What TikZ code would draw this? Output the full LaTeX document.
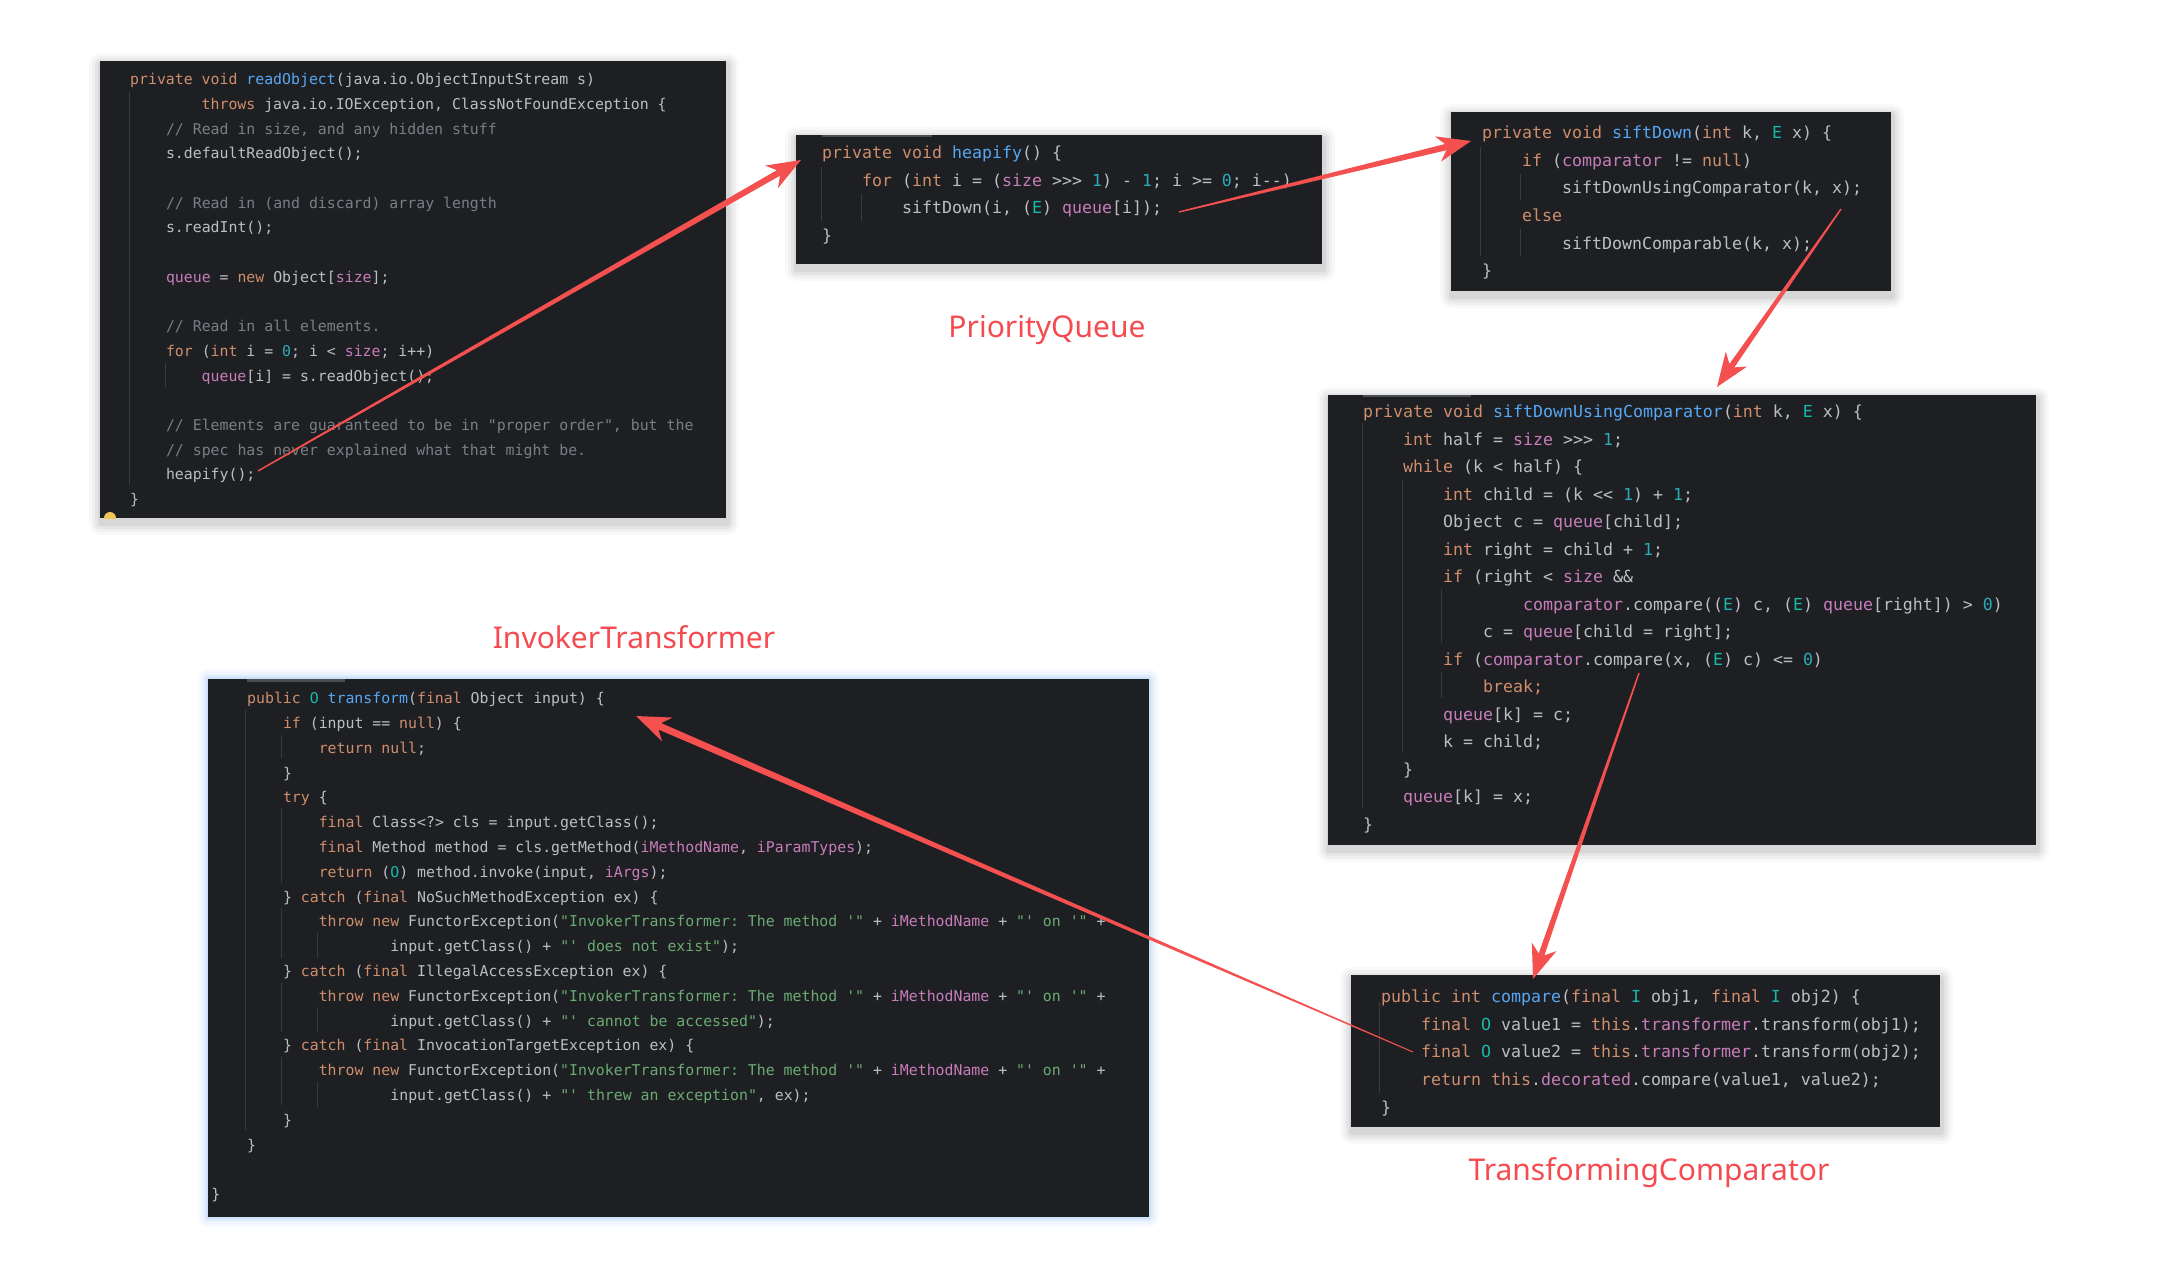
\documentclass[tikz,border=0pt]{standalone}
\usepackage{fontspec}
\setmonofont{DejaVu Sans Mono}
\newfontfamily\labelfont{Noto Sans}
\usetikzlibrary{calc}
\definecolor{bg}{HTML}{1E1F22}
\definecolor{tx}{HTML}{BCBEC4}
\definecolor{kwc}{HTML}{CF8E6D}
\definecolor{fnc}{HTML}{56A8F5}
\definecolor{fdc}{HTML}{C77DBB}
\definecolor{nmc}{HTML}{2AACB8}
\definecolor{cmc}{HTML}{7A7E85}
\definecolor{stc}{HTML}{6AAB73}
\definecolor{tpc}{HTML}{16BAAC}
\definecolor{arrowred}{RGB}{245,80,80}
\definecolor{lblred}{RGB}{245,75,80}
\definecolor{guide}{HTML}{393B40}
\definecolor{topbar}{HTML}{4A4D53}
\definecolor{glow}{RGB}{110,165,240}
\definecolor{dotyellow}{HTML}{F2C55C}
\newcommand\ckw[1]{\textcolor{kwc}{#1}}
\newcommand\cfn[1]{\textcolor{fnc}{#1}}
\newcommand\cfd[1]{\textcolor{fdc}{#1}}
\newcommand\cnm[1]{\textcolor{nmc}{#1}}
\newcommand\ccm[1]{\textcolor{cmc}{#1}}
\newcommand\cst[1]{\textcolor{stc}{#1}}
\newcommand\ctp[1]{\textcolor{tpc}{#1}}
\tikzset{
  code/.style={font=\ttfamily\fontsize{16.6pt}{16.6pt}\selectfont, text=tx, anchor=mid west, inner sep=0pt, yshift=-3.5pt},
  codes/.style={code, font=\ttfamily\fontsize{14.85pt}{14.85pt}\selectfont},
  codebox/.style={fill=bg, draw=none, anchor=north west, inner sep=0pt, outer sep=0pt},
  lbl/.style={font=\labelfont\fontsize{30pt}{30pt}\selectfont, text=lblred, anchor=base, inner sep=0pt},
  guideline/.style={draw=guide, line width=1pt},
}
\newcommand\dropshadow[4]{%
  \foreach \d/\o in {12/0.025,9/0.035,6/0.045,3/0.06}{%
    \fill[black, opacity=\o, rounded corners=\d pt] (#1-\d+1, #2-\d+4) rectangle (#3+\d+1, #4+\d+5);}%
}
\newcommand\glowshadow[4]{%
  \foreach \d/\o in {10/0.05,7/0.07,4/0.10,2/0.14}{%
    \fill[glow, opacity=\o, rounded corners=\d pt] (#1-\d, #2-\d) rectangle (#3+\d, #4+\d);}%
}
\newcommand\taperarrow[4]{%
  \coordinate (#2-n) at ($(#2)!26pt!(#1)$);
  \coordinate (#2-c) at ($(#2)!34pt!(#1)$);
  \fill[arrowred] ($(#1)!#3!90:(#2)$) -- ($(#2-n)!#4!90:(#2)$) -- ($(#2-c)!13pt!90:(#2)$) -- (#2)
    -- ($(#2-c)!13pt!-90:(#2)$) -- ($(#2-n)!#4!-90:(#2)$) -- ($(#1)!#3!-90:(#2)$) -- cycle;
}
\begin{document}
\begin{tikzpicture}[x=1pt, y=-1pt]
\fill[white] (0,0) rectangle (2176,1279);
\useasboundingbox (0,0) rectangle (2176,1279);

% ---------- shadows ----------
\dropshadow{100}{61}{726}{518}
\dropshadow{796}{135}{1322}{264}
\dropshadow{1451}{112}{1891}{291}
\dropshadow{1328}{395}{2036}{845}
\dropshadow{1351}{975}{1940}{1127}
\glowshadow{208}{679}{1149}{1217}

% ---------- boxes ----------
\node[codebox, minimum width=626pt, minimum height=457pt] (box1) at (100,61) {};
\node[codebox, minimum width=526pt, minimum height=129pt] (box2) at (796,135) {};
\node[codebox, minimum width=440pt, minimum height=179pt] (box3) at (1451,112) {};
\node[codebox, minimum width=708pt, minimum height=450pt] (box4) at (1328,395) {};
\node[codebox, minimum width=589pt, minimum height=152pt] (box5) at (1351,975) {};
\node[codebox, minimum width=941pt, minimum height=538pt] (box6) at (208,679) {};

% top bars
\fill[topbar] (822,135) rectangle (932,137);
\fill[topbar] (1363,395) rectangle (1471,397);
\fill[topbar] (247,679) rectangle (345,682);

% yellow dot
\begin{scope}
\clip (100,61) rectangle (726,518);
\fill[dotyellow] (110,518) circle[radius=6pt];
\end{scope}

% ---------- indent guides ----------
\draw[guideline] (129,92) -- (129,485);
\draw[guideline] (165,363) -- (165,387);
\draw[guideline] (821,167) -- (821,221);
\draw[guideline] (861,194) -- (861,221);
\draw[guideline] (1480,147) -- (1480,256);
\draw[guideline] (1520,174) -- (1520,200);
\draw[guideline] (1520,229) -- (1520,256);
\draw[guideline] (1362,423) -- (1362,808);
\draw[guideline] (1402,479) -- (1402,753);
\draw[guideline] (1441,589) -- (1441,643);
\draw[guideline] (1441,672) -- (1441,698);
\draw[guideline] (1379,1002) -- (1379,1093);
\draw[guideline] (245,710) -- (245,1130);
\draw[guideline] (281,735) -- (281,758);
\draw[guideline] (281,808) -- (281,883);
\draw[guideline] (281,908) -- (281,958);
\draw[guideline] (281,983) -- (281,1032);
\draw[guideline] (281,1057) -- (281,1105);
\draw[guideline] (317,933) -- (317,958);
\draw[guideline] (317,1007) -- (317,1032);
\draw[guideline] (317,1082) -- (317,1107);

% ---------- box1: readObject ----------
\node[codes] (t1a) at (130,79) {\ckw{private void} \cfn{readObject}(java.io.ObjectInputStream s)};
\node[codes] (t1b) at (201.5,103.7) {\ckw{throws} java.io.IOException, ClassNotFoundException \{};
\node[codes] (t1c) at (165.8,128.4) {\ccm{// Read in size, and any hidden stuff}};
\node[codes] (t1d) at (165.8,153.1) {s.defaultReadObject();};
\node[codes] (t1e) at (165.8,202.5) {\ccm{// Read in (and discard) array length}};
\node[codes] (t1f) at (165.8,227.2) {s.readInt();};
\node[codes] (t1g) at (165.8,276.6) {\cfd{queue} = \ckw{new} Object[\cfd{size}];};
\node[codes] (t1h) at (165.8,326) {\ccm{// Read in all elements.}};
\node[codes] (t1i) at (165.8,350.7) {\ckw{for} (\ckw{int} i = \cnm{0}; i < \cfd{size}; i++)};
\node[codes] (t1j) at (201.5,375.4) {\cfd{queue}[i] = s.readObject();};
\node[codes] (t1k) at (165.8,424.8) {\ccm{// Elements are guaranteed to be in "proper order", but the}};
\node[codes] (t1l) at (165.8,449.5) {\ccm{// spec has never explained what that might be.}};
\node[codes] (t1m) at (165.8,474.2) {heapify();};
\node[codes] (t1n) at (130,498.9) {\}};

% ---------- box2: heapify ----------
\node[code] (t2a) at (822,153) {\ckw{private void} \cfn{heapify}() \{};
\node[code] (t2b) at (862,180.5) {\ckw{for} (\ckw{int} i = (\cfd{size} >>> \cnm{1}) - \cnm{1}; i >= \cnm{0}; i--)};
\node[code] (t2c) at (902,208) {siftDown(i, (\ctp{E}) \cfd{queue}[i]);};
\node[code] (t2d) at (822,235.5) {\}};

% ---------- box3: siftDown ----------
\node[code] (t3a) at (1482,133) {\ckw{private void} \cfn{siftDown}(\ckw{int} k, \ctp{E} x) \{};
\node[code] (t3b) at (1522,160.6) {\ckw{if} (\cfd{comparator} != \ckw{null})};
\node[code] (t3c) at (1562,188.2) {siftDownUsingComparator(k, x);};
\node[code] (t3d) at (1522,215.8) {\ckw{else}};
\node[code] (t3e) at (1562,243.4) {siftDownComparable(k, x);};
\node[code] (t3f) at (1482,271) {\}};

% ---------- box4: siftDownUsingComparator ----------
\node[code] (t4a) at (1363,412) {\ckw{private void} \cfn{siftDownUsingComparator}(\ckw{int} k, \ctp{E} x) \{};
\node[code] (t4b) at (1403,439.5) {\ckw{int} half = \cfd{size} >>> \cnm{1};};
\node[code] (t4c) at (1403,467) {\ckw{while} (k < half) \{};
\node[code] (t4d) at (1443,494.5) {\ckw{int} child = (k << \cnm{1}) + \cnm{1};};
\node[code] (t4e) at (1443,522) {Object c = \cfd{queue}[child];};
\node[code] (t4f) at (1443,549.5) {\ckw{int} right = child + \cnm{1};};
\node[code] (t4g) at (1443,577) {\ckw{if} (right < \cfd{size} \&\&};
\node[code] (t4h) at (1523,604.5) {\cfd{comparator}.compare((\ctp{E}) c, (\ctp{E}) \cfd{queue}[right]) > \cnm{0})};
\node[code] (t4i) at (1483,632) {c = \cfd{queue}[child = right];};
\node[code] (t4j) at (1443,659.5) {\ckw{if} (\cfd{comparator}.compare(x, (\ctp{E}) c) <= \cnm{0})};
\node[code] (t4k) at (1483,687) {\ckw{break;}};
\node[code] (t4l) at (1443,714.5) {\cfd{queue}[k] = c;};
\node[code] (t4m) at (1443,742) {k = child;};
\node[code] (t4n) at (1403,769.5) {\}};
\node[code] (t4o) at (1403,797) {\cfd{queue}[k] = x;};
\node[code] (t4p) at (1363,824.5) {\}};

% ---------- box5: compare ----------
\node[code] (t5a) at (1381,997) {\ckw{public int} \cfn{compare}(\ckw{final} \ctp{I} obj1, \ckw{final} \ctp{I} obj2) \{};
\node[code] (t5b) at (1421,1024.6) {\ckw{final} \ctp{O} value1 = \ckw{this}.\cfd{transformer}.transform(obj1);};
\node[code] (t5c) at (1421,1052.2) {\ckw{final} \ctp{O} value2 = \ckw{this}.\cfd{transformer}.transform(obj2);};
\node[code] (t5d) at (1421,1079.8) {\ckw{return this}.\cfd{decorated}.compare(value1, value2);};
\node[code] (t5e) at (1381,1107.4) {\}};

% ---------- box6: transform ----------
\node[codes] (t6a) at (247,698) {\ckw{public} \ctp{O} \cfn{transform}(\ckw{final} Object input) \{};
\node[codes] (t6b) at (282.8,722.8) {\ckw{if} (input == \ckw{null}) \{};
\node[codes] (t6c) at (318.6,747.6) {\ckw{return null};};
\node[codes] (t6d) at (282.8,772.4) {\}};
\node[codes] (t6e) at (282.8,797.2) {\ckw{try} \{};
\node[codes] (t6f) at (318.6,822) {\ckw{final} Class<?> cls = input.getClass();};
\node[codes] (t6g) at (318.6,846.8) {\ckw{final} Method method = cls.getMethod(\cfd{iMethodName}, \cfd{iParamTypes});};
\node[codes] (t6h) at (318.6,871.6) {\ckw{return} (\ctp{O}) method.invoke(input, \cfd{iArgs});};
\node[codes] (t6i) at (282.8,896.4) {\} \ckw{catch} (\ckw{final} NoSuchMethodException ex) \{};
\node[codes] (t6j) at (318.6,921.2) {\ckw{throw new} FunctorException(\cst{"InvokerTransformer: The method '"} + \cfd{iMethodName} + \cst{"' on '"} +};
\node[codes] (t6k) at (390.2,946) {input.getClass() + \cst{"' does not exist"});};
\node[codes] (t6l) at (282.8,970.8) {\} \ckw{catch} (\ckw{final} IllegalAccessException ex) \{};
\node[codes] (t6m) at (318.6,995.6) {\ckw{throw new} FunctorException(\cst{"InvokerTransformer: The method '"} + \cfd{iMethodName} + \cst{"' on '"} +};
\node[codes] (t6n) at (390.2,1020.4) {input.getClass() + \cst{"' cannot be accessed"});};
\node[codes] (t6o) at (282.8,1045.2) {\} \ckw{catch} (\ckw{final} InvocationTargetException ex) \{};
\node[codes] (t6p) at (318.6,1070) {\ckw{throw new} FunctorException(\cst{"InvokerTransformer: The method '"} + \cfd{iMethodName} + \cst{"' on '"} +};
\node[codes] (t6q) at (390.2,1094.8) {input.getClass() + \cst{"' threw an exception"}, ex);};
\node[codes] (t6r) at (282.8,1119.6) {\}};
\node[codes] (t6s) at (247,1144.4) {\}};
\node[codes] (t6t) at (211.2,1194) {\}};

% ---------- labels ----------
\node[lbl] (lpq) at (1047,337) {PriorityQueue};
\node[lbl] (lit) at (634,648) {InvokerTransformer};
\node[lbl] (ltc) at (1649,1180) {TransformingComparator};

% ---------- arrows ----------
\coordinate (a1s) at (258,471);
\coordinate (a1e) at (801,160);
\coordinate (a2s) at (1179,212);
\coordinate (a2e) at (1471,141);
\coordinate (a3s) at (1841,209);
\coordinate (a3e) at (1717,387);
\coordinate (a4s) at (1639,673);
\coordinate (a4e) at (1533,979);
\coordinate (a5s) at (1413,1052);
\coordinate (a5e) at (636,716);
\taperarrow{a1s}{a1e}{0.7pt}{3.2pt}
\taperarrow{a2s}{a2e}{0.7pt}{3.2pt}
\taperarrow{a3s}{a3e}{0.7pt}{3.0pt}
\taperarrow{a4s}{a4e}{0.7pt}{3.0pt}
\taperarrow{a5s}{a5e}{0.5pt}{3.5pt}
\end{tikzpicture}
\end{document}
